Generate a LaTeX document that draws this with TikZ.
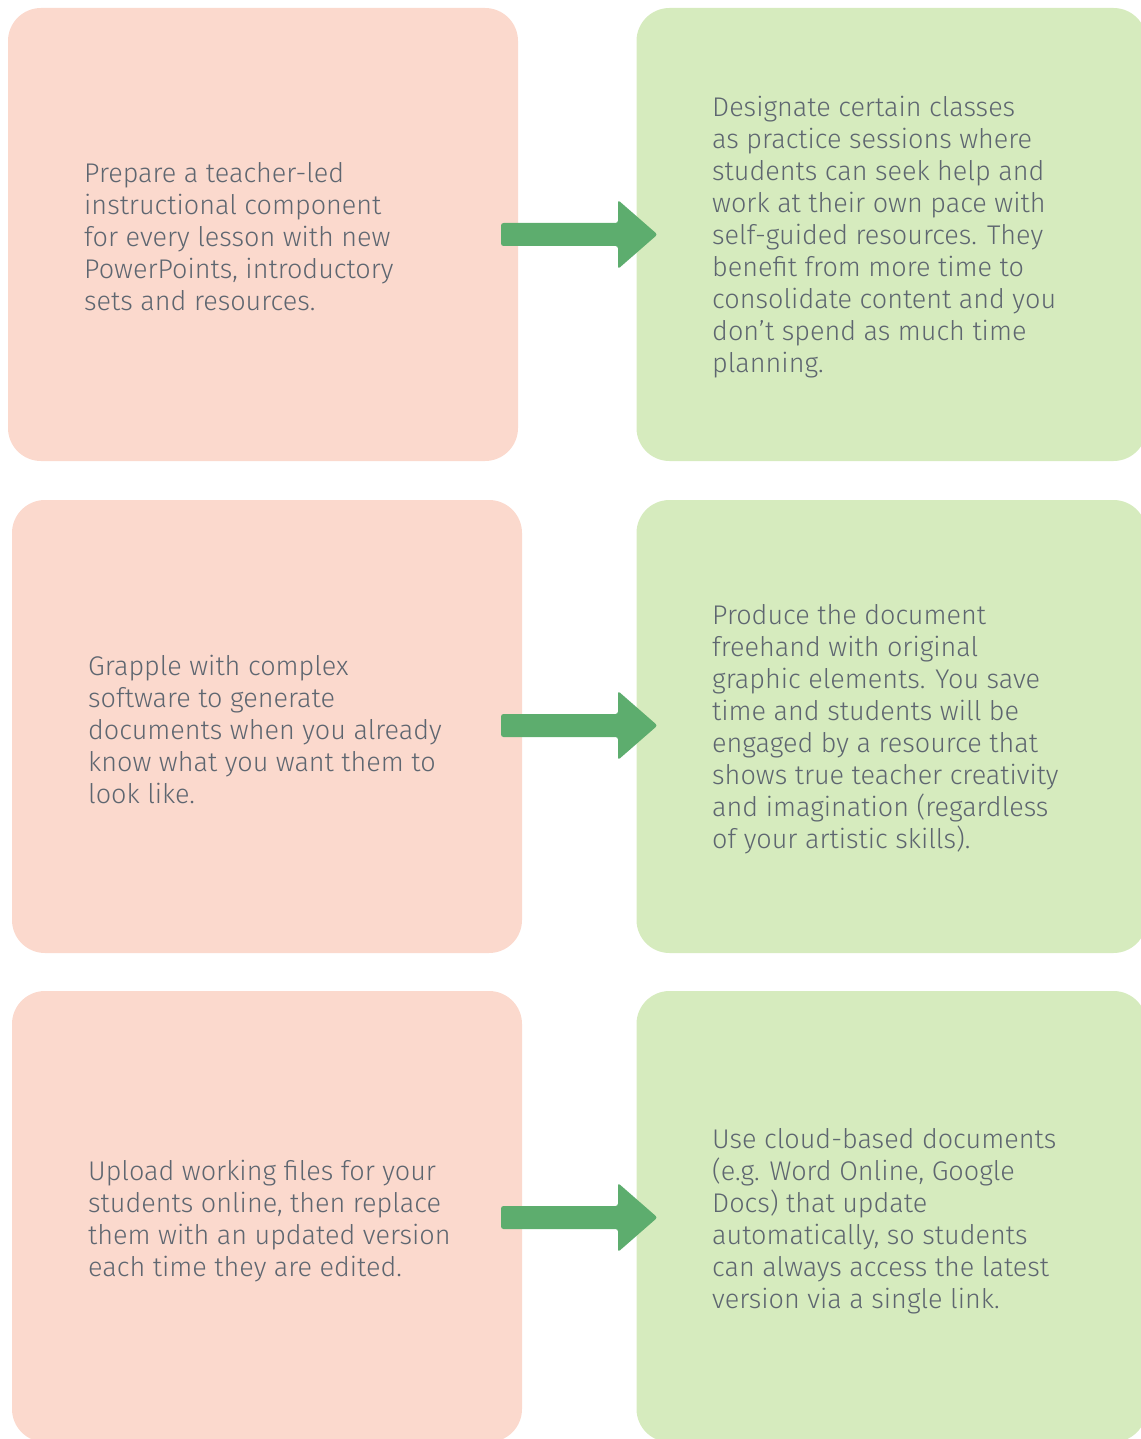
\documentclass[tikz,border=0pt]{standalone}
\usepackage{fontspec}
\setmainfont{Fira Sans}[UprightFont={* Light}]
\definecolor{pinkbox}{HTML}{FBD9CD}
\definecolor{greenbox}{HTML}{D6EBBE}
\definecolor{arrowgreen}{HTML}{5DAD6E}
\definecolor{txtgray}{HTML}{5E6670}
\tikzset{
  card/.style={draw=none, rounded corners=33pt, inner sep=0pt, minimum width=510pt},
  pinkcard/.style={card, fill=pinkbox},
  greencard/.style={card, fill=greenbox},
  cardtext/.style={anchor=west, align=left, inner sep=0pt, text=txtgray, font=\fontsize{27}{32}\selectfont},
  bigarrow/.style={fill=arrowgreen, draw=none, rounded corners=2.5pt}
}
\begin{document}
\begin{tikzpicture}[x=1pt,y=-1pt]
\useasboundingbox (0,0) rectangle (1140,1439);
% boxes
\node[pinkcard, minimum height=453pt] (b1) at (263,234.5) {};
\node[greencard, minimum height=453pt] (g1) at (891.5,234.5) {};
\node[pinkcard, minimum height=453pt] (b2) at (267,726.5) {};
\node[greencard, minimum height=453pt] (g2) at (891.5,726.5) {};
\node[pinkcard, minimum height=451pt] (b3) at (267,1216.5) {};
\node[greencard, minimum height=451pt] (g3) at (891.5,1216.5) {};
% texts
\node[cardtext] (t1) at (84,237) {Prepare a teacher-led\\instructional component\\for every lesson with new\\PowerPoints, introductory\\sets and resources.};
\node[cardtext] (t2) at (712,237) {Designate certain classes\\as practice sessions where\\students can seek help and\\work at their own pace with\\self-guided resources. They\\benefit from more time to\\consolidate content and you\\don’t spend as much time\\planning.};
\node[cardtext] (t3) at (88,729) {Grapple with complex\\software to generate\\documents when you already\\know what you want them to\\look like.};
\node[cardtext] (t4) at (712,729) {Produce the document\\freehand with original\\graphic elements. You save\\time and students will be\\engaged by a resource that\\shows true teacher creativity\\and imagination (regardless\\of your artistic skills).};
\node[cardtext] (t5) at (88,1221) {Upload working files for your\\students online, then replace\\them with an updated version\\each time they are edited.};
\node[cardtext] (t6) at (712,1221) {Use cloud-based documents\\(e.g. Word Online, Google\\Docs) that update\\automatically, so students\\can always access the latest\\version via a single link.};
% arrows
\foreach \cy in {234.5,725.5,1217.5}{
  \fill[bigarrow] (501,\cy-11.5) -- (618,\cy-11.5) -- (618,\cy-34.5) -- (657.5,\cy) -- (618,\cy+34.5) -- (618,\cy+11.5) -- (501,\cy+11.5) -- cycle;
}
\end{tikzpicture}
\end{document}
